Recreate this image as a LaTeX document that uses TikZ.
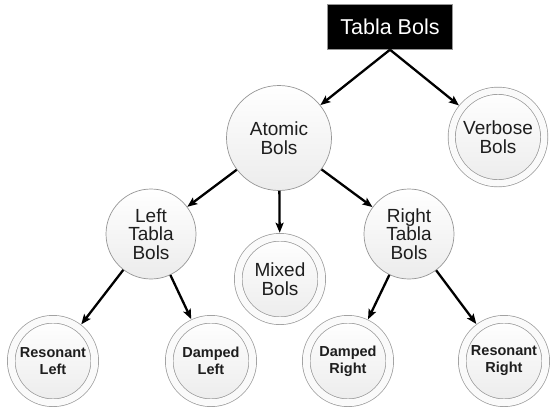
\documentclass[tikz,border=0pt]{standalone}
\usepackage{fontspec}
\setmainfont{Liberation Sans}
\usetikzlibrary{arrows.meta}
\definecolor{bolgray}{RGB}{150,150,150}
\definecolor{boltext}{RGB}{30,30,30}

\begin{document}
\begin{tikzpicture}[x=1pt,y=-1pt,
rootnode/.style={draw=bolgray, fill=black, text=white, minimum width=125pt, minimum height=45pt, inner sep=0pt, font=\fontsize{21.5}{24}\selectfont},
treenode/.style={circle, draw=bolgray, line width=0.7pt, top color=white, bottom color=gray!15, text=boltext, align=center, inner sep=0pt, font=\fontsize{19}{18.5}\selectfont},
ringnode/.style={treenode, double=gray!4, double distance=7pt, outer sep=4.5pt, minimum size=83.5pt},
leafnode/.style={ringnode, font=\bfseries\fontsize{14.5}{17}\selectfont},
link/.style={-{Stealth[length=10pt,width=8pt,inset=2pt]}, line width=2.3pt}]
    \useasboundingbox (0,0) rectangle (550,408);
    \node [rootnode] (tabla) at (390,27) {Tabla Bols};
    \node [treenode, minimum size=105pt] (atomic) at (279,138) {Atomic\\Bols};
    \node [ringnode, minimum size=92.5pt, double distance=6.5pt, outer sep=4pt] (verbose) at (498,137) {Verbose\\Bols};
    \node [treenode, minimum size=90pt] (lefttabla) at (151,234) {Left\\Tabla\\Bols};
    \node [ringnode] (mixed) at (280,279) {Mixed\\Bols};
    \node [treenode, minimum size=90pt] (righttabla) at (409,234) {Right\\Tabla\\Bols};
    \node [leafnode] (resleft) at (53,361) {Resonant\\Left};
    \node [leafnode] (dampleft) at (211,361) {Damped\\Left};
    \node [leafnode] (dampright) at (348,361) {Damped\\Right};
    \node [leafnode] (resright) at (504,361) {Resonant\\Right};

    \draw [link] (tabla.south) -- (atomic);
    \draw [link] (tabla.south) -- (verbose);
    \draw [link] (atomic) -- (lefttabla);
    \draw [link] (atomic) -- (mixed);
    \draw [link] (atomic) -- (righttabla);
    \draw [link] (lefttabla) -- (resleft);
    \draw [link] (lefttabla) -- (dampleft);
    \draw [link] (righttabla) -- (dampright);
    \draw [link] (righttabla) -- (resright);
\end{tikzpicture}
\end{document}
